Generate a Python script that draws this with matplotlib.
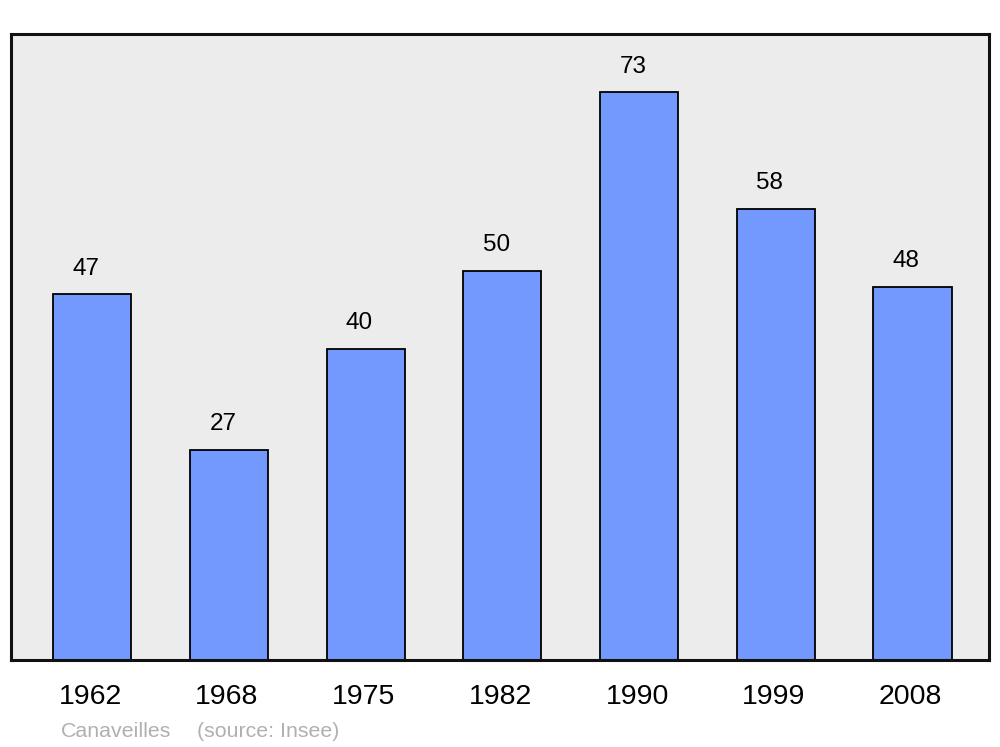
import matplotlib.pyplot as plt
import matplotlib.transforms as mtransforms
import numpy as np

years = ['1962', '1968', '1975', '1982', '1990', '1999', '2008']
population = [47, 27, 40, 50, 73, 58, 48]

plt.rcParams['font.family'] = ['Liberation Sans', 'DejaVu Sans']

fig = plt.figure(figsize=(10, 7.47), dpi=100)
ax = fig.add_axes([0.011, 87 / 747, 0.978, 626 / 747])
ax.set_facecolor('#ececec')

x = np.arange(len(years))
ax.bar(x, population, width=0.572, color='#7399ff', edgecolor='black',
       linewidth=1.3, zorder=2)

for xi, v in zip(x, population):
    ax.annotate(str(v), (xi - 0.045, v), xytext=(0, 14), textcoords='offset points',
                ha='center', va='baseline', fontsize=17.5)

ax.set_xlim(-0.595, 6.56)
ax.set_ylim(0, 80.45)
ax.set_yticks([])
ax.set_xticks(x)
ax.set_xticklabels(years, fontsize=20.5)
ax.tick_params(axis='x', length=0, pad=17.5)
# nudge the year labels a little to the left, like the original
shift = mtransforms.ScaledTranslation(-2 / 100, 0, fig.dpi_scale_trans)
for lab in ax.get_xticklabels():
    lab.set_transform(lab.get_transform() + shift)
for s in ax.spines.values():
    s.set_linewidth(2.2)
    s.set_color('#111111')

fig.text(0.061, 1 - 737 / 747, 'Canaveilles', color='#b0b0b0', fontsize=15.4, va='baseline')
fig.text(0.197, 1 - 737 / 747, '(source: Insee)', color='#b0b0b0', fontsize=15.4, va='baseline')

plt.savefig('out.png')
